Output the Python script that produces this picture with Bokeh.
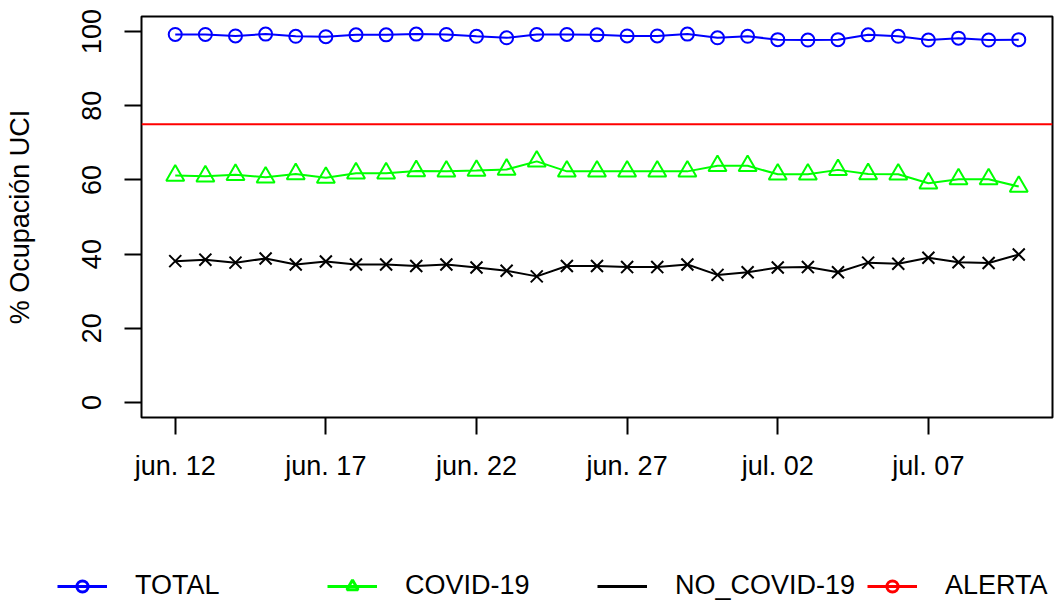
from bokeh.plotting import figure
from bokeh.models import (Span, Legend, LegendItem, FixedTicker, ColumnDataSource, Range1d)
from bokeh.layouts import column
from bokeh.embed import file_html
from bokeh.resources import INLINE
import pandas as pd

# ---------------- data ----------------
dates = pd.date_range("2020-06-12", "2020-07-10", freq="D")
total = [99.2, 99.2, 98.8, 99.3, 98.7, 98.6, 99.1, 99.1, 99.3, 99.2,
         98.7, 98.3, 99.2, 99.2, 99.1, 98.8, 98.8, 99.3, 98.3, 98.7,
         97.8, 97.7, 97.8, 99.1, 98.7, 97.7, 98.2, 97.7, 97.8]
covid = [61.2, 61.0, 61.4, 60.7, 61.6, 60.6, 61.8, 61.8, 62.4, 62.3,
         62.5, 62.8, 65.0, 62.3, 62.3, 62.3, 62.3, 62.3, 63.8, 63.8,
         61.5, 61.5, 62.7, 61.6, 61.5, 59.1, 60.2, 60.2, 58.2]
no_covid = [38.1, 38.5, 37.7, 38.8, 37.2, 38.0, 37.2, 37.2, 36.8, 37.2,
            36.4, 35.5, 34.0, 36.8, 36.8, 36.5, 36.5, 37.2, 34.4, 35.1,
            36.4, 36.5, 35.1, 37.7, 37.4, 39.0, 37.8, 37.6, 39.9]
alerta = 75
tick_dates = ["2020-06-12", "2020-06-17", "2020-06-22", "2020-06-27", "2020-07-02", "2020-07-07"]
tick_labels = ["jun. 12", "jun. 17", "jun. 22", "jun. 27", "jul. 02", "jul. 07"]
y_ticks = [0, 20, 40, 60, 80, 100]
series_names = ["TOTAL", "COVID-19", "NO_COVID-19", "ALERTA"]

# day offsets from the first date
day = [(d - dates[0]).days for d in dates]
tick_days = [(pd.Timestamp(t) - dates[0]).days for t in tick_dates]

src = ColumnDataSource(dict(day=day, total=total, covid=covid, no_covid=no_covid,
                            alerta=[alerta] * len(day)))

FONT = "Liberation Sans"
FS = "27px"
BLUE, GREEN, BLACK, RED = "#0000FF", "#00FF00", "black", "#FF0000"

p = figure(width=1057, height=500, output_backend="svg", toolbar_location=None,
           x_range=Range1d(-1.12, 29.12), y_range=Range1d(-4.04, 104.04),
           min_border_left=141, min_border_right=5, min_border_top=16, min_border_bottom=83)

p.background_fill_color = "white"
p.border_fill_color = "white"
p.outline_line_color = "black"
p.outline_line_width = 2
p.xgrid.visible = False
p.ygrid.visible = False

for ax in (p.xaxis[0], p.yaxis[0]):
    ax.axis_line_color = None
    ax.major_tick_line_color = "black"
    ax.major_tick_line_width = 2
    ax.major_tick_out = 17
    ax.major_tick_in = 0
    ax.minor_tick_line_color = None
    ax.major_label_text_font = FONT
    ax.major_label_text_font_size = FS
    ax.major_label_text_color = "black"

p.xaxis.ticker = FixedTicker(ticks=tick_days)
p.xaxis.major_label_overrides = {t: l for t, l in zip(tick_days, tick_labels)}
p.xaxis.major_label_standoff = 16

p.yaxis.ticker = FixedTicker(ticks=y_ticks)
p.yaxis.major_label_orientation = "vertical"
p.yaxis.major_label_standoff = 23
p.yaxis.axis_label = "% Ocupación UCI"
p.yaxis.axis_label_text_font = FONT
p.yaxis.axis_label_text_font_size = FS
p.yaxis.axis_label_text_font_style = "normal"
p.yaxis.axis_label_text_color = "black"
p.yaxis.axis_label_standoff = 45

p.add_layout(Span(location=alerta, dimension="width", line_color=RED, line_width=2))

p.line("day", "total", source=src, line_color=BLUE, line_width=2)
p.scatter("day", "total", source=src, marker="circle", size=13,
          line_color=BLUE, line_width=2, fill_color=None)
p.line("day", "covid", source=src, line_color=GREEN, line_width=2)
p.scatter("day", "covid", source=src, marker="triangle", size=18,
          line_color=GREEN, line_width=2, fill_color=None)
p.line("day", "no_covid", source=src, line_color=BLACK, line_width=2)
p.scatter("day", "no_covid", source=src, marker="x", size=17,
          line_color=BLACK, line_width=2)

# ---------------- legend figure (ranges chosen so its glyphs stay off-view) ----------------
lg = figure(width=1057, height=105, output_backend="svg", toolbar_location=None,
            x_range=Range1d(-1.12, 29.12), y_range=Range1d(1000, 1001),
            min_border_left=0, min_border_right=0, min_border_top=0, min_border_bottom=0)
for fig in (p, lg):
    try:
        fig.frame_align = False
    except Exception:
        pass
lg.axis.visible = False
lg.xgrid.visible = False
lg.ygrid.visible = False
lg.outline_line_color = None
lg.background_fill_color = "white"
lg.border_fill_color = "white"

LW = 3
l_tl = lg.line("day", "total", source=src, line_color=BLUE, line_width=LW)
l_tm = lg.scatter("day", "total", source=src, marker="circle", line_color=BLUE, line_width=LW, fill_color=None)
l_cl = lg.line("day", "covid", source=src, line_color=GREEN, line_width=LW)
l_cm = lg.scatter("day", "covid", source=src, marker="triangle", line_color=GREEN, line_width=LW, fill_color=None)
l_nl = lg.line("day", "no_covid", source=src, line_color=BLACK, line_width=LW)
l_al = lg.line("day", "alerta", source=src, line_color=RED, line_width=LW)
l_am = lg.scatter("day", "alerta", source=src, marker="circle", line_color=RED, line_width=LW, fill_color=None)

legend = Legend(items=[
    LegendItem(label=series_names[0], renderers=[l_tl, l_tm]),
    LegendItem(label=series_names[1], renderers=[l_cl, l_cm]),
    LegendItem(label=series_names[2], renderers=[l_nl]),
    LegendItem(label=series_names[3], renderers=[l_al, l_am]),
], orientation="horizontal", location=(57, 4))
legend.glyph_width = 50
legend.glyph_height = 28
legend.label_standoff = 28
legend.label_width = 192
legend.spacing = 0
legend.padding = 0
legend.margin = 0
legend.border_line_color = None
legend.background_fill_alpha = 0
legend.label_text_font = FONT
legend.label_text_font_size = FS
legend.label_text_color = "black"
lg.add_layout(legend, "center")

layout = column(p, lg, spacing=0)
open("out.html", "w").write(file_html(layout, INLINE))
